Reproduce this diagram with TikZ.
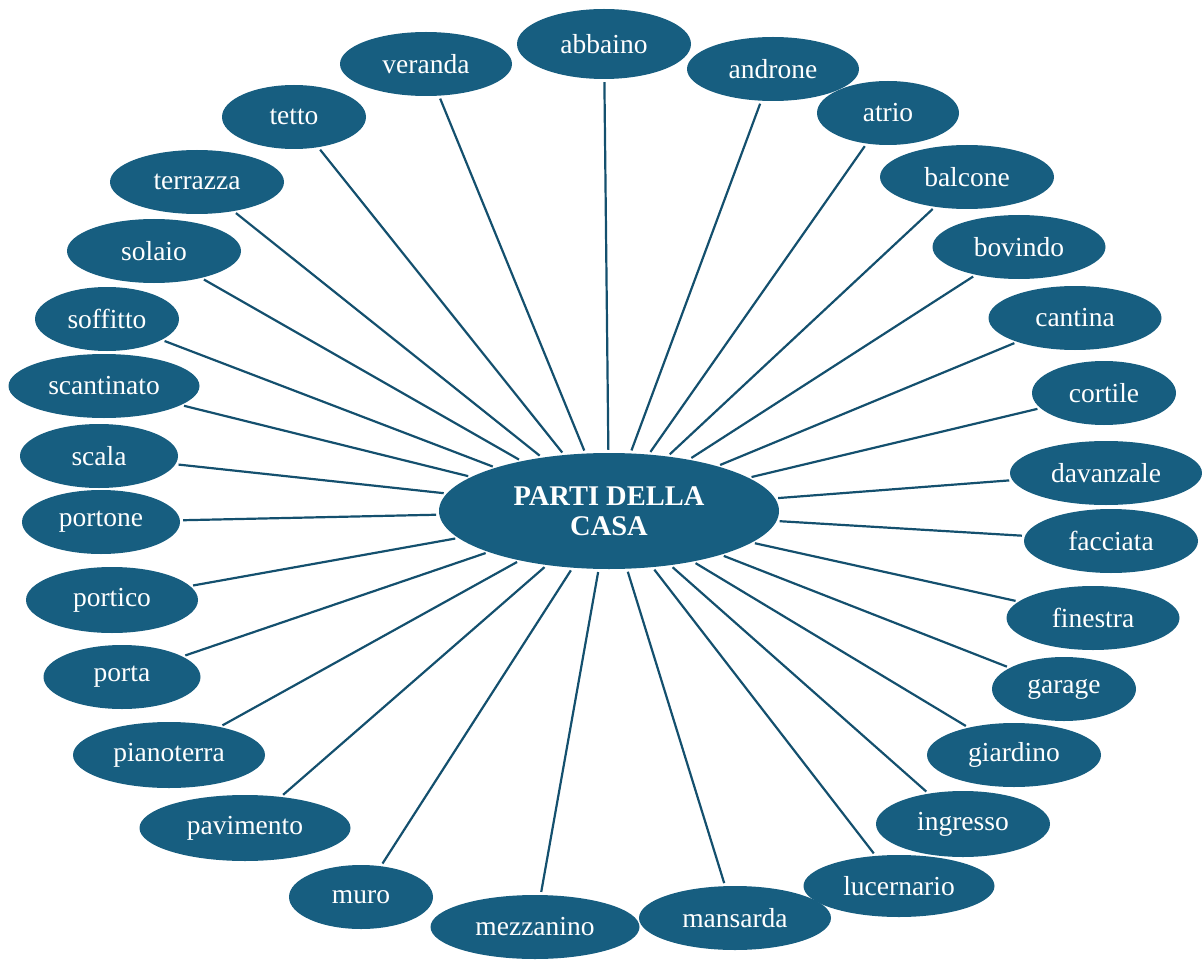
\documentclass[tikz,border=0pt]{standalone}
\usepackage{fontspec}
\setmainfont{Liberation Serif}
\usetikzlibrary{shapes.geometric}
\definecolor{casablue}{RGB}{23,94,128}
\definecolor{linkblue}{RGB}{20,80,110}
\tikzset{
  leaf/.style={ellipse, fill=casablue, draw=none, text=white, inner sep=0pt,
    minimum height=64pt, font=\fontsize{27.5}{30}\selectfont},
  hub/.style={ellipse, fill=casablue, draw=none, text=white, inner sep=0pt,
    minimum width=340pt, minimum height=116pt, align=center,
    font=\fontsize{28.5}{30}\selectfont\bfseries},
  link/.style={draw=linkblue, line width=2.2pt, shorten >=3pt, shorten <=3pt}
}
\begin{document}
\begin{tikzpicture}[x=1pt,y=-1pt]
\useasboundingbox (0,0) rectangle (1202,960);
\node[hub] (c) at (609,511) {PARTI DELLA\\CASA};
\node[leaf, minimum width=174pt, minimum height=70pt] (abbaino) at (604,44) {abbaino};
\node[leaf, minimum width=172pt] (veranda) at (426,64) {veranda};
\node[leaf, minimum width=172pt] (androne) at (773,69) {androne};
\node[leaf, minimum width=144pt] (tetto) at (294,117) {tetto};
\node[leaf, minimum width=142pt] (atrio) at (888,113) {atrio};
\node[leaf, minimum width=174pt] (terrazza) at (197,182) {terrazza};
\node[leaf, minimum width=174pt] (balcone) at (967,177) {balcone};
\node[leaf, minimum width=174pt] (solaio) at (154,251) {solaio};
\node[leaf, minimum width=173pt] (bovindo) at (1019,247) {bovindo};
\node[leaf, minimum width=144pt] (soffitto) at (107,319) {soffitto};
\node[leaf, minimum width=173pt] (cantina) at (1075,318) {cantina};
\node[leaf, minimum width=191pt] (scantinato) at (104,386) {scantinato};
\node[leaf, minimum width=144pt] (cortile) at (1104,393) {cortile};
\node[leaf, minimum width=158pt] (scala) at (99,456) {scala};
\node[leaf, minimum width=192pt] (davanzale) at (1106,473) {davanzale};
\node[leaf, minimum width=158pt] (portone) at (101,522) {portone};
\node[leaf, minimum width=174pt] (facciata) at (1111,541) {facciata};
\node[leaf, minimum width=172pt, minimum height=66pt] (portico) at (112,600) {portico};
\node[leaf, minimum width=173pt] (finestra) at (1093,618) {finestra};
\node[leaf, minimum width=157pt] (porta) at (122,677) {porta};
\node[leaf, minimum width=144pt] (garage) at (1064,689) {garage};
\node[leaf, minimum width=192pt, minimum height=66pt] (pianoterra) at (169,755) {pianoterra};
\node[leaf, minimum width=174pt] (giardino) at (1014,755) {giardino};
\node[leaf, minimum width=211pt, minimum height=66pt] (pavimento) at (245,828) {pavimento};
\node[leaf, minimum width=174pt, minimum height=66pt] (ingresso) at (963,824) {ingresso};
\node[leaf, minimum width=144pt] (muro) at (361,897) {muro};
\node[leaf, minimum width=191pt, minimum height=62pt] (lucernario) at (899,886) {lucernario};
\node[leaf, minimum width=209pt] (mezzanino) at (535,927) {mezzanino};
\node[leaf, minimum width=192pt] (mansarda) at (735,918) {mansarda};
\foreach \n in {abbaino,veranda,androne,tetto,atrio,terrazza,balcone,solaio,bovindo,soffitto,cantina,scantinato,cortile,scala,davanzale,portone,facciata,portico,finestra,porta,garage,pianoterra,giardino,pavimento,ingresso,muro,lucernario,mezzanino,mansarda}
  \draw[link] (c) -- (\n);
\end{tikzpicture}
\end{document}
